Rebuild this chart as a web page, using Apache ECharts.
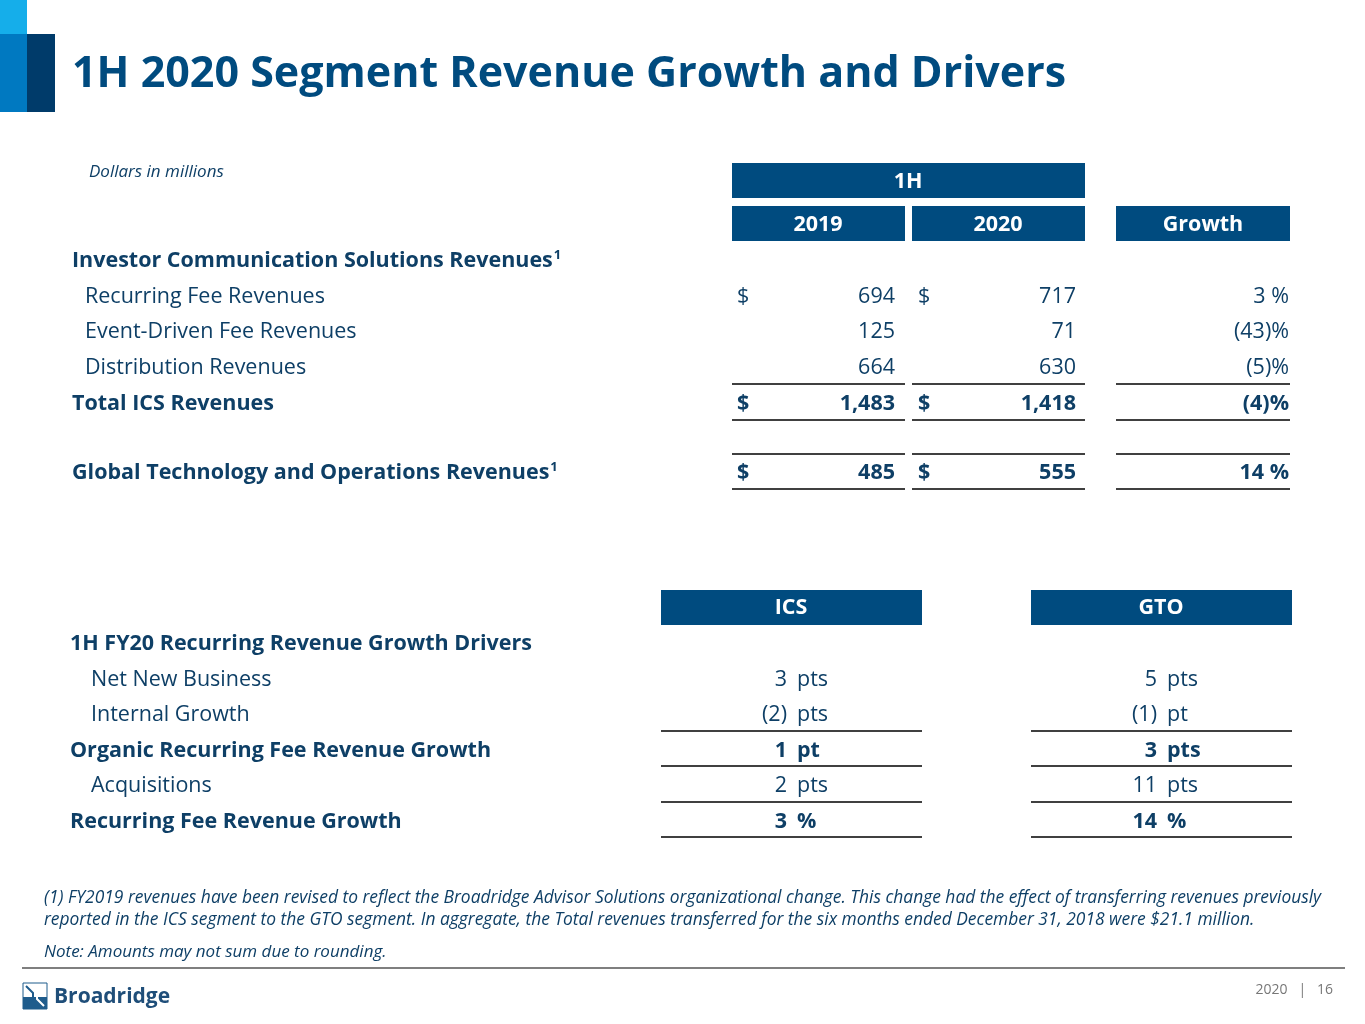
<!DOCTYPE html>
<html><head><meta charset="utf-8">
<script src="https://cdn.jsdelivr.net/npm/echarts@6/dist/echarts.min.js"></script>
<style>html,body{margin:0;padding:0;background:#fff}#main{width:1365px;height:1024px}</style>
</head><body><div id="main"></div>
<script>
var BLUE = '#004B7F';
var TXT = '#0E3F66';
var FONT = '"Open Sans", sans-serif';

// top table data
var topLabels = ['Investor Communication Solutions Revenues', 'Recurring Fee Revenues', 'Event-Driven Fee Revenues', 'Distribution Revenues', 'Total ICS Revenues', '', 'Global Technology and Operations Revenues'];
var topBold = [1, 0, 0, 0, 1, 0, 1];
var topSup = [1, 0, 0, 0, 0, 0, 1];
var rev2019 = [null, 694, 125, 664, 1483, null, 485];
var rev2020 = [null, 717, 71, 630, 1418, null, 555];
var growth = ['', '3 %', '(43)%', '(5)%', '(4)%', '', '14 %'];
var dollarRows = [1, 4, 6];

// bottom table data
var drvLabels = ['1H FY20 Recurring Revenue Growth Drivers', 'Net New Business', 'Internal Growth', 'Organic Recurring Fee Revenue Growth', 'Acquisitions', 'Recurring Fee Revenue Growth'];
var drvBold = [1, 0, 0, 1, 0, 1];
var icsVal = ['', '3', '(2)', '1', '2', '3'];
var icsUnit = ['', 'pts', 'pts', 'pt', 'pts', '%'];
var gtoVal = ['', '5', '(1)', '3', '11', '14'];
var gtoUnit = ['', 'pts', 'pt', 'pts', 'pts', '%'];

function fmt(v) { return v.toLocaleString('en-US'); }

var g = [];
function font(o) { return (o.italic ? 'italic ' : '') + (o.bold ? 'bold ' : '') + (o.size || 21.5) + 'px ' + FONT; }
function txt(x, y, s, o) {
  o = o || {};
  g.push({ type: 'text', x: x, y: y, style: { text: s, fill: o.fill || TXT, font: font(o), textAlign: o.align || 'left', textVerticalAlign: 'middle' } });
}
function rect(x, y, w, h, c) { g.push({ type: 'rect', shape: { x: x, y: y, width: w, height: h }, style: { fill: c } }); }
function line(x1, x2, y, c, w) { g.push({ type: 'line', shape: { x1: x1, y1: y, x2: x2, y2: y }, style: { stroke: c || '#000', lineWidth: w || 1.5 } }); }

// decoration
rect(0, 0, 27, 34, '#15AEEA');
rect(0, 34, 27, 78, '#0079C1');
rect(27, 34, 28, 78, '#003B6A');
txt(72, 75, '1H 2020 Segment Revenue Growth and Drivers', { size: 43, bold: true, fill: BLUE });
txt(89, 172, 'Dollars in millions', { size: 17, italic: true });

// top header
rect(732, 163, 353, 35, BLUE); txt(908, 182, '1H', { bold: true, fill: '#fff', align: 'center' });
rect(732, 206, 173, 35, BLUE); txt(818, 225, '2019', { bold: true, fill: '#fff', align: 'center' });
rect(912, 206, 173, 35, BLUE); txt(998, 225, '2020', { bold: true, fill: '#fff', align: 'center' });
rect(1116, 206, 174, 35, BLUE); txt(1203, 225, 'Growth', { bold: true, fill: '#fff', align: 'center' });

var topY = [261, 297, 332, 368, 404, 438, 473];
topLabels.forEach(function (l, i) {
  if (!l) return;
  var b = !!topBold[i];
  if (topSup[i]) {
    g.push({ type: 'text', x: 72, y: topY[i], style: {
      text: '{m|' + l + '}{s|1}', textVerticalAlign: 'middle',
      rich: { m: { font: font({ bold: true }), fill: TXT }, s: { font: font({ bold: true, size: 13 }), fill: TXT, verticalAlign: 'top', padding: [0, 0, 12, 1] } }
    } });
  } else {
    txt(b ? 72 : 85, topY[i], l, { bold: b });
  }
  if (rev2019[i] != null) {
    txt(895, topY[i], fmt(rev2019[i]), { bold: b, align: 'right' });
    txt(1076, topY[i], fmt(rev2020[i]), { bold: b, align: 'right' });
    txt(1289, topY[i], growth[i], { bold: b, align: 'right' });
  }
  if (dollarRows.indexOf(i) >= 0) { txt(737, topY[i], '$', { bold: b }); txt(918, topY[i], '$', { bold: b }); }
});
[384, 420, 454, 489].forEach(function (y) { line(732, 905, y); line(912, 1085, y); line(1116, 1290, y); });

// bottom table
rect(661, 590, 261, 35, BLUE); txt(791, 608, 'ICS', { bold: true, fill: '#fff', align: 'center' });
rect(1031, 590, 261, 35, BLUE); txt(1161, 608, 'GTO', { bold: true, fill: '#fff', align: 'center' });
var drvY = [644, 680, 715, 751, 786, 822];
drvLabels.forEach(function (l, i) {
  var b = !!drvBold[i];
  txt(b ? 70 : 91, drvY[i], l, { bold: b });
  if (icsVal[i]) {
    txt(787, drvY[i], icsVal[i], { bold: b, align: 'right' });
    txt(797, drvY[i], icsUnit[i], { bold: b });
    txt(1157, drvY[i], gtoVal[i], { bold: b, align: 'right' });
    txt(1167, drvY[i], gtoUnit[i], { bold: b });
  }
});
[731, 766, 802, 837].forEach(function (y) { line(661, 922, y); line(1031, 1292, y); });

// footnotes
txt(44, 898, '(1) FY2019 revenues have been revised to reflect the Broadridge Advisor Solutions organizational change. This change had the effect of transferring revenues previously', { size: 17.4, italic: true });
txt(44, 920, 'reported in the ICS segment to the GTO segment. In aggregate, the Total revenues transferred for the six months ended December 31, 2018 were $21.1 million.', { size: 17.4, italic: true });
txt(44, 952, 'Note: Amounts may not sum due to rounding.', { size: 17, italic: true });
line(22, 1345, 968, '#555', 1.5);
txt(1333, 990, '2020   |   16', { size: 14, fill: '#777', align: 'right' });

// logo
g.push({ type: 'rect', shape: { x: 23, y: 983, width: 24, height: 26 }, style: { fill: '#fff', stroke: '#1F5C8C', lineWidth: 1 } });
rect(23, 997, 24, 12, '#1F5C8C');
g.push({ type: 'polyline', shape: { points: [[26, 986], [33, 993], [33, 999], [26, 1006]] }, style: { fill: 'none', stroke: '#1F5C8C', lineWidth: 2 } });
g.push({ type: 'polyline', shape: { points: [[44, 986], [37, 993], [37, 999], [44, 1006]] }, style: { fill: 'none', stroke: '#fff', lineWidth: 2 } });
txt(54, 997, 'Broadridge', { size: 21, bold: true, fill: '#1F4E79' });

var myChart = echarts.init(document.getElementById('main'));
myChart.setOption({ backgroundColor: '#fff', graphic: g });
</script></body></html>
